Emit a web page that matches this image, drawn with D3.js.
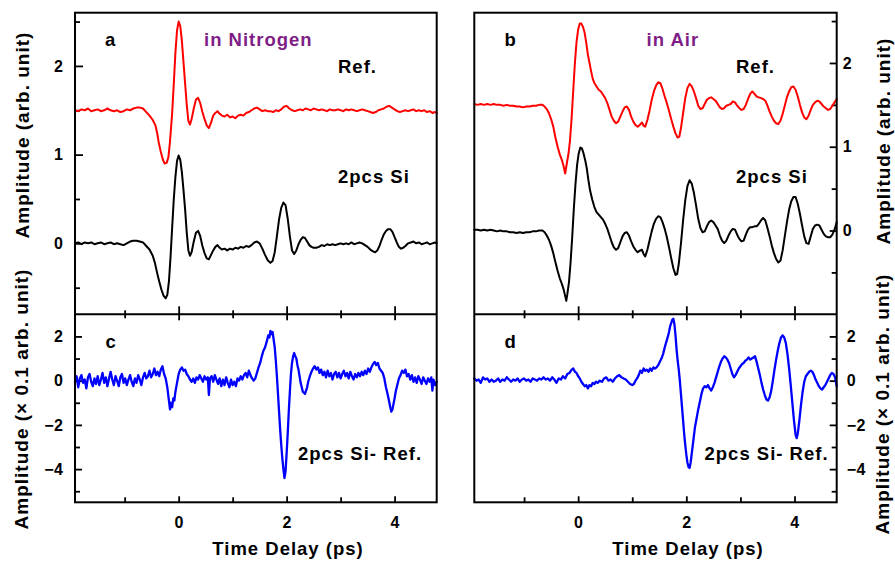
<!DOCTYPE html>
<html><head><meta charset="utf-8">
<script src="https://cdn.jsdelivr.net/npm/d3@7"></script>
<style>
html,body{margin:0;padding:0;background:#fff;}
svg{display:block;font-family:"Liberation Sans",Arial,sans-serif;font-weight:bold;}
</style></head><body>
<svg id="chart" width="895" height="562"></svg>
<script>
// ---------------- data ----------------
// Panel a: reference in nitrogen (red), [time ps, amplitude]
const refN2 = [[-1.92,1.50],[-1.86,1.49],[-1.80,1.51],[-1.74,1.50],[-1.68,1.52],[-1.62,1.49],[-1.56,1.50],[-1.50,1.51],[-1.44,1.49],[-1.38,1.50],[-1.32,1.52],[-1.26,1.50],[-1.20,1.49],[-1.14,1.50],[-1.08,1.48],[-1.02,1.49],[-0.96,1.51],[-0.90,1.50],[-0.84,1.52],[-0.78,1.53],[-0.72,1.53],[-0.66,1.52],[-0.60,1.48],[-0.54,1.44],[-0.48,1.39],[-0.43,1.33],[-0.40,1.25],[-0.37,1.14],[-0.33,1.03],[-0.29,0.94],[-0.26,0.90],[-0.22,0.91],[-0.19,0.97],[-0.16,1.15],[-0.12,1.47],[-0.09,1.80],[-0.06,2.15],[-0.03,2.40],[0.00,2.50],[0.03,2.45],[0.06,2.28],[0.09,2.04],[0.12,1.80],[0.15,1.56],[0.18,1.38],[0.21,1.34],[0.24,1.40],[0.28,1.52],[0.32,1.62],[0.36,1.64],[0.40,1.58],[0.44,1.48],[0.48,1.40],[0.52,1.33],[0.56,1.30],[0.60,1.36],[0.64,1.44],[0.68,1.47],[0.72,1.49],[0.76,1.46],[0.80,1.44],[0.85,1.43],[0.90,1.45],[0.95,1.42],[1.00,1.43],[1.05,1.41],[1.10,1.44],[1.15,1.45],[1.20,1.44],[1.25,1.47],[1.30,1.48],[1.35,1.50],[1.40,1.52],[1.45,1.53],[1.50,1.51],[1.55,1.49],[1.60,1.50],[1.65,1.49],[1.70,1.49],[1.75,1.48],[1.80,1.50],[1.85,1.49],[1.90,1.51],[1.95,1.54],[2.00,1.55],[2.05,1.52],[2.10,1.50],[2.15,1.49],[2.20,1.50],[2.25,1.51],[2.30,1.50],[2.35,1.52],[2.40,1.51],[2.45,1.50],[2.50,1.52],[2.55,1.51],[2.60,1.50],[2.65,1.51],[2.70,1.50],[2.75,1.49],[2.80,1.51],[2.85,1.50],[2.90,1.50],[2.95,1.51],[3.00,1.50],[3.05,1.49],[3.10,1.51],[3.15,1.50],[3.20,1.51],[3.25,1.50],[3.30,1.49],[3.35,1.50],[3.40,1.51],[3.45,1.50],[3.50,1.49],[3.55,1.48],[3.60,1.47],[3.65,1.48],[3.70,1.50],[3.75,1.51],[3.80,1.52],[3.85,1.54],[3.90,1.55],[3.95,1.53],[4.00,1.51],[4.05,1.49],[4.10,1.48],[4.15,1.49],[4.20,1.50],[4.25,1.49],[4.30,1.50],[4.35,1.51],[4.40,1.49],[4.45,1.50],[4.50,1.49],[4.55,1.50],[4.60,1.48],[4.65,1.49],[4.70,1.47],[4.75,1.48],[4.78,1.47]];

// Panel a: 2pcs Si in nitrogen (black)
const siN2 = [[-1.92,0.00],[-1.86,0.01],[-1.80,-0.01],[-1.74,0.01],[-1.68,0.00],[-1.62,0.01],[-1.56,-0.01],[-1.50,0.00],[-1.44,0.01],[-1.38,-0.01],[-1.32,0.00],[-1.26,0.01],[-1.20,-0.01],[-1.14,0.00],[-1.08,-0.01],[-1.02,-0.02],[-0.96,0.00],[-0.90,0.02],[-0.84,0.03],[-0.78,0.03],[-0.72,0.02],[-0.66,0.01],[-0.60,-0.03],[-0.54,-0.07],[-0.48,-0.14],[-0.44,-0.22],[-0.40,-0.33],[-0.36,-0.43],[-0.32,-0.52],[-0.28,-0.59],[-0.24,-0.62],[-0.21,-0.58],[-0.18,-0.43],[-0.15,-0.15],[-0.12,0.18],[-0.09,0.50],[-0.06,0.75],[-0.03,0.93],[0.00,0.99],[0.03,0.94],[0.06,0.80],[0.09,0.60],[0.12,0.38],[0.15,0.12],[0.18,-0.08],[0.21,-0.14],[0.24,-0.10],[0.28,0.02],[0.32,0.12],[0.36,0.14],[0.40,0.08],[0.44,-0.03],[0.48,-0.11],[0.52,-0.17],[0.56,-0.18],[0.60,-0.13],[0.64,-0.08],[0.68,-0.04],[0.72,-0.02],[0.76,-0.05],[0.80,-0.07],[0.85,-0.06],[0.90,-0.08],[0.95,-0.06],[1.00,-0.07],[1.05,-0.05],[1.10,-0.06],[1.15,-0.04],[1.20,-0.05],[1.25,-0.03],[1.30,-0.04],[1.35,-0.02],[1.40,0.01],[1.45,0.02],[1.50,0.00],[1.55,-0.06],[1.60,-0.13],[1.65,-0.19],[1.70,-0.22],[1.74,-0.20],[1.78,-0.10],[1.82,0.08],[1.86,0.27],[1.90,0.40],[1.94,0.46],[1.98,0.43],[2.02,0.28],[2.06,0.08],[2.10,-0.08],[2.14,-0.12],[2.18,-0.08],[2.22,-0.01],[2.26,0.04],[2.30,0.07],[2.34,0.06],[2.38,0.02],[2.42,-0.02],[2.46,-0.04],[2.50,-0.05],[2.55,-0.05],[2.60,-0.04],[2.65,-0.02],[2.70,-0.03],[2.75,-0.01],[2.80,-0.02],[2.85,-0.01],[2.90,-0.02],[2.95,-0.01],[3.00,0.00],[3.05,-0.01],[3.10,0.00],[3.15,-0.01],[3.20,0.01],[3.25,-0.01],[3.30,0.00],[3.35,0.01],[3.40,0.00],[3.45,-0.02],[3.50,-0.04],[3.55,-0.07],[3.60,-0.09],[3.64,-0.10],[3.68,-0.08],[3.72,-0.03],[3.76,0.04],[3.80,0.10],[3.84,0.14],[3.88,0.16],[3.92,0.16],[3.96,0.13],[4.00,0.07],[4.04,0.01],[4.08,-0.04],[4.12,-0.06],[4.16,-0.05],[4.20,-0.03],[4.25,0.00],[4.30,0.01],[4.35,0.02],[4.40,0.00],[4.45,0.01],[4.50,-0.01],[4.55,0.00],[4.60,0.01],[4.65,-0.01],[4.70,0.00],[4.75,0.01],[4.78,0.00]];

// Panel b: reference in air (red)
const refAir = [[-1.92,1.51],[-1.86,1.50],[-1.80,1.51],[-1.74,1.50],[-1.68,1.51],[-1.62,1.50],[-1.56,1.51],[-1.50,1.50],[-1.44,1.50],[-1.38,1.49],[-1.32,1.50],[-1.26,1.49],[-1.20,1.49],[-1.14,1.48],[-1.08,1.48],[-1.02,1.47],[-0.96,1.48],[-0.90,1.48],[-0.84,1.49],[-0.78,1.49],[-0.72,1.50],[-0.66,1.50],[-0.62,1.48],[-0.58,1.45],[-0.54,1.40],[-0.50,1.33],[-0.46,1.24],[-0.42,1.11],[-0.38,1.00],[-0.34,0.91],[-0.30,0.84],[-0.27,0.77],[-0.24,0.68],[-0.21,0.80],[-0.18,0.91],[-0.15,1.08],[-0.12,1.35],[-0.09,1.68],[-0.06,2.00],[-0.03,2.25],[0.00,2.40],[0.03,2.47],[0.06,2.47],[0.09,2.43],[0.12,2.36],[0.15,2.24],[0.18,2.10],[0.21,2.00],[0.24,1.90],[0.27,1.81],[0.30,1.76],[0.34,1.72],[0.38,1.68],[0.42,1.66],[0.46,1.62],[0.50,1.58],[0.54,1.52],[0.58,1.44],[0.62,1.36],[0.66,1.31],[0.70,1.28],[0.74,1.30],[0.78,1.36],[0.82,1.42],[0.86,1.47],[0.90,1.48],[0.94,1.44],[0.98,1.36],[1.02,1.30],[1.06,1.26],[1.10,1.24],[1.14,1.26],[1.18,1.29],[1.21,1.25],[1.24,1.24],[1.28,1.32],[1.32,1.43],[1.36,1.56],[1.40,1.66],[1.44,1.73],[1.48,1.77],[1.52,1.76],[1.56,1.69],[1.60,1.60],[1.64,1.52],[1.68,1.43],[1.72,1.33],[1.76,1.24],[1.80,1.16],[1.84,1.11],[1.87,1.12],[1.90,1.22],[1.94,1.40],[1.98,1.58],[2.02,1.70],[2.06,1.75],[2.10,1.72],[2.14,1.66],[2.18,1.58],[2.22,1.49],[2.26,1.45],[2.30,1.46],[2.34,1.51],[2.38,1.56],[2.42,1.58],[2.46,1.59],[2.50,1.57],[2.54,1.55],[2.58,1.51],[2.62,1.47],[2.66,1.45],[2.70,1.46],[2.74,1.49],[2.78,1.50],[2.82,1.51],[2.86,1.54],[2.90,1.53],[2.94,1.49],[2.98,1.46],[3.02,1.44],[3.06,1.45],[3.10,1.50],[3.14,1.57],[3.18,1.63],[3.22,1.66],[3.26,1.63],[3.30,1.60],[3.34,1.59],[3.38,1.58],[3.42,1.57],[3.46,1.55],[3.50,1.49],[3.54,1.42],[3.58,1.36],[3.62,1.31],[3.66,1.28],[3.70,1.27],[3.74,1.31],[3.78,1.39],[3.82,1.49],[3.86,1.59],[3.90,1.66],[3.94,1.71],[3.98,1.72],[4.02,1.68],[4.06,1.60],[4.10,1.50],[4.14,1.41],[4.18,1.35],[4.22,1.33],[4.26,1.37],[4.30,1.44],[4.34,1.50],[4.38,1.53],[4.42,1.55],[4.46,1.54],[4.50,1.51],[4.54,1.48],[4.58,1.46],[4.62,1.44],[4.66,1.45],[4.70,1.49],[4.74,1.53],[4.78,1.57]];

// Panel b: 2pcs Si in air (black)
const siAir = [[-1.92,0.01],[-1.86,0.01],[-1.80,0.00],[-1.74,0.01],[-1.68,0.00],[-1.62,0.01],[-1.56,0.00],[-1.50,-0.01],[-1.44,0.00],[-1.38,-0.01],[-1.32,-0.01],[-1.26,-0.02],[-1.20,-0.02],[-1.14,-0.03],[-1.08,-0.02],[-1.02,-0.03],[-0.96,-0.02],[-0.90,-0.02],[-0.84,-0.01],[-0.78,-0.01],[-0.72,0.00],[-0.66,0.00],[-0.62,-0.02],[-0.58,-0.06],[-0.54,-0.11],[-0.50,-0.18],[-0.46,-0.27],[-0.42,-0.38],[-0.38,-0.48],[-0.34,-0.57],[-0.30,-0.64],[-0.27,-0.70],[-0.24,-0.78],[-0.22,-0.84],[-0.20,-0.76],[-0.17,-0.62],[-0.14,-0.38],[-0.11,-0.08],[-0.08,0.26],[-0.05,0.55],[-0.02,0.78],[0.01,0.92],[0.04,0.99],[0.07,0.98],[0.10,0.92],[0.13,0.84],[0.16,0.74],[0.19,0.60],[0.22,0.48],[0.26,0.37],[0.30,0.28],[0.34,0.22],[0.38,0.19],[0.42,0.16],[0.46,0.13],[0.50,0.08],[0.54,0.02],[0.58,-0.06],[0.62,-0.14],[0.66,-0.20],[0.70,-0.23],[0.74,-0.21],[0.78,-0.14],[0.82,-0.07],[0.86,-0.03],[0.90,-0.02],[0.94,-0.06],[0.98,-0.13],[1.02,-0.19],[1.06,-0.23],[1.10,-0.26],[1.14,-0.24],[1.18,-0.23],[1.21,-0.28],[1.24,-0.31],[1.28,-0.23],[1.32,-0.12],[1.36,-0.01],[1.40,0.08],[1.44,0.14],[1.48,0.17],[1.52,0.16],[1.56,0.10],[1.60,0.02],[1.64,-0.08],[1.68,-0.20],[1.72,-0.33],[1.76,-0.45],[1.80,-0.53],[1.83,-0.52],[1.86,-0.40],[1.90,-0.16],[1.94,0.12],[1.98,0.36],[2.02,0.53],[2.06,0.60],[2.10,0.56],[2.14,0.45],[2.18,0.30],[2.22,0.14],[2.26,0.03],[2.30,-0.02],[2.34,-0.01],[2.38,0.05],[2.42,0.10],[2.46,0.12],[2.50,0.10],[2.54,0.06],[2.58,0.02],[2.62,-0.06],[2.66,-0.12],[2.70,-0.15],[2.74,-0.12],[2.78,-0.06],[2.82,-0.01],[2.86,0.02],[2.90,0.01],[2.94,-0.05],[2.98,-0.10],[3.02,-0.13],[3.06,-0.12],[3.10,-0.05],[3.14,0.01],[3.18,0.04],[3.22,0.04],[3.26,0.05],[3.30,0.05],[3.34,0.08],[3.38,0.12],[3.42,0.15],[3.46,0.12],[3.50,0.03],[3.54,-0.07],[3.58,-0.18],[3.62,-0.27],[3.66,-0.34],[3.70,-0.38],[3.74,-0.36],[3.78,-0.24],[3.82,-0.07],[3.86,0.10],[3.90,0.25],[3.94,0.35],[3.98,0.40],[4.02,0.40],[4.06,0.32],[4.10,0.20],[4.14,0.06],[4.18,-0.07],[4.22,-0.15],[4.26,-0.16],[4.30,-0.07],[4.34,0.02],[4.38,0.06],[4.42,0.07],[4.46,0.06],[4.50,0.01],[4.54,-0.04],[4.58,-0.07],[4.62,-0.08],[4.66,-0.08],[4.70,-0.05],[4.74,0.01],[4.78,0.10]];

// Panel c: difference in nitrogen (blue, x0.1)
const diffN2 = [[-1.92,-0.05],[-1.89,0.20],[-1.86,-0.30],[-1.83,0.10],[-1.80,0.25],[-1.77,-0.10],[-1.74,0.05],[-1.71,-0.35],[-1.68,0.15],[-1.65,0.30],[-1.62,-0.05],[-1.59,-0.25],[-1.56,0.10],[-1.53,-0.15],[-1.50,0.20],[-1.47,-0.20],[-1.44,0.05],[-1.41,0.35],[-1.38,-0.10],[-1.35,0.15],[-1.32,-0.25],[-1.29,0.10],[-1.26,0.40],[-1.23,0.05],[-1.20,-0.20],[-1.17,0.20],[-1.14,0.00],[-1.11,-0.25],[-1.08,0.15],[-1.05,0.30],[-1.02,-0.10],[-0.99,0.10],[-0.96,-0.20],[-0.93,0.05],[-0.90,0.25],[-0.87,-0.05],[-0.84,-0.25],[-0.81,0.10],[-0.78,-0.10],[-0.75,0.25],[-0.72,0.05],[-0.69,-0.20],[-0.66,0.15],[-0.63,0.35],[-0.60,0.10],[-0.57,0.20],[-0.54,0.45],[-0.51,0.15],[-0.48,0.30],[-0.45,0.55],[-0.42,0.25],[-0.39,0.40],[-0.36,0.20],[-0.33,0.50],[-0.30,0.65],[-0.27,0.30],[-0.24,0.10],[-0.21,-0.30],[-0.18,-0.90],[-0.16,-1.30],[-0.14,-1.00],[-0.12,-1.20],[-0.10,-0.80],[-0.08,-0.90],[-0.06,-0.50],[-0.03,-0.10],[0.00,0.30],[0.03,0.50],[0.06,0.60],[0.09,0.45],[0.12,0.50],[0.15,0.30],[0.18,0.20],[0.21,0.05],[0.24,-0.05],[0.27,0.10],[0.30,-0.10],[0.33,0.15],[0.36,0.05],[0.39,0.25],[0.42,0.10],[0.45,-0.05],[0.48,0.20],[0.51,0.05],[0.54,0.15],[0.56,-0.65],[0.58,0.10],[0.61,0.20],[0.64,-0.05],[0.67,0.25],[0.70,0.05],[0.73,-0.15],[0.76,0.10],[0.79,-0.25],[0.82,0.05],[0.85,-0.20],[0.88,0.15],[0.91,-0.10],[0.94,-0.30],[0.97,0.05],[1.00,-0.20],[1.03,-0.05],[1.06,-0.25],[1.09,0.10],[1.12,0.00],[1.15,0.20],[1.18,0.05],[1.21,0.25],[1.24,0.35],[1.27,0.15],[1.30,0.45],[1.33,0.25],[1.36,0.10],[1.39,0.00],[1.42,0.10],[1.45,0.35],[1.48,0.60],[1.51,0.80],[1.54,1.10],[1.57,1.35],[1.60,1.50],[1.63,1.75],[1.66,2.05],[1.68,1.95],[1.70,2.25],[1.72,2.10],[1.74,2.20],[1.76,1.85],[1.78,1.50],[1.80,0.90],[1.82,0.20],[1.84,-0.60],[1.86,-1.40],[1.88,-2.20],[1.90,-2.90],[1.92,-3.50],[1.94,-4.00],[1.96,-4.40],[1.98,-4.10],[2.00,-3.30],[2.02,-2.40],[2.04,-1.40],[2.06,-0.50],[2.08,0.30],[2.10,0.80],[2.12,1.10],[2.14,1.25],[2.16,1.10],[2.18,1.00],[2.20,0.70],[2.22,0.50],[2.24,0.20],[2.26,-0.10],[2.28,-0.30],[2.30,-0.50],[2.32,-0.55],[2.34,-0.60],[2.36,-0.45],[2.38,-0.30],[2.40,-0.05],[2.43,0.20],[2.46,0.40],[2.49,0.55],[2.52,0.65],[2.55,0.50],[2.58,0.60],[2.61,0.35],[2.64,0.50],[2.67,0.25],[2.70,0.40],[2.73,0.15],[2.76,0.45],[2.79,0.20],[2.82,0.35],[2.85,0.05],[2.88,0.30],[2.91,0.40],[2.94,0.15],[2.97,0.35],[3.00,0.10],[3.03,0.30],[3.06,0.45],[3.09,0.20],[3.12,0.35],[3.15,0.10],[3.18,0.40],[3.21,0.20],[3.24,0.05],[3.27,0.30],[3.30,0.15],[3.33,0.35],[3.36,0.20],[3.39,0.40],[3.42,0.25],[3.45,0.45],[3.48,0.30],[3.51,0.55],[3.54,0.40],[3.57,0.60],[3.60,0.75],[3.63,0.85],[3.66,0.70],[3.69,0.80],[3.72,0.55],[3.75,0.45],[3.78,0.35],[3.81,0.10],[3.84,-0.30],[3.87,-0.60],[3.90,-0.95],[3.92,-1.20],[3.94,-1.40],[3.96,-1.30],[3.98,-1.05],[4.00,-0.80],[4.02,-0.50],[4.05,-0.20],[4.08,0.10],[4.11,0.25],[4.14,0.45],[4.17,0.35],[4.20,0.50],[4.23,0.20],[4.26,0.30],[4.29,0.05],[4.32,0.25],[4.35,-0.05],[4.38,0.15],[4.41,-0.10],[4.44,0.20],[4.47,0.05],[4.50,-0.15],[4.53,0.15],[4.56,0.00],[4.59,-0.15],[4.62,0.10],[4.65,-0.05],[4.68,0.15],[4.70,-0.45],[4.72,0.05],[4.75,-0.20],[4.78,-0.05]];

// Panel d: difference in air (blue, x0.1)
const diffAir = [[-1.92,0.10],[-1.88,0.00],[-1.84,0.05],[-1.80,-0.10],[-1.76,0.15],[-1.72,0.05],[-1.68,0.10],[-1.64,-0.05],[-1.60,0.05],[-1.56,-0.05],[-1.52,0.00],[-1.48,0.10],[-1.44,-0.05],[-1.40,0.05],[-1.36,0.00],[-1.32,0.15],[-1.28,0.05],[-1.24,-0.05],[-1.20,0.05],[-1.16,0.00],[-1.12,0.10],[-1.08,-0.05],[-1.04,0.05],[-1.00,0.10],[-0.96,0.00],[-0.92,0.05],[-0.88,-0.05],[-0.84,0.10],[-0.80,0.05],[-0.76,0.00],[-0.72,0.10],[-0.68,0.05],[-0.64,0.15],[-0.60,0.05],[-0.56,0.10],[-0.52,0.00],[-0.48,0.15],[-0.44,0.05],[-0.40,-0.10],[-0.36,0.10],[-0.32,0.05],[-0.28,0.20],[-0.24,0.10],[-0.20,0.30],[-0.16,0.35],[-0.12,0.50],[-0.09,0.55],[-0.06,0.40],[-0.03,0.35],[0.00,0.20],[0.03,0.10],[0.06,-0.05],[0.09,-0.15],[0.12,-0.25],[0.15,-0.20],[0.18,-0.35],[0.21,-0.20],[0.24,-0.25],[0.27,-0.10],[0.30,-0.15],[0.33,-0.05],[0.36,-0.10],[0.40,0.00],[0.44,-0.05],[0.48,0.10],[0.52,0.15],[0.56,0.00],[0.60,0.05],[0.64,-0.05],[0.68,0.10],[0.72,0.20],[0.76,0.25],[0.80,0.15],[0.84,0.10],[0.88,0.05],[0.92,-0.05],[0.96,-0.15],[1.00,-0.20],[1.03,-0.15],[1.06,0.00],[1.09,0.10],[1.12,0.25],[1.15,0.45],[1.18,0.35],[1.21,0.55],[1.24,0.45],[1.27,0.50],[1.30,0.40],[1.33,0.55],[1.36,0.45],[1.39,0.60],[1.42,0.55],[1.45,0.60],[1.48,0.70],[1.51,0.85],[1.54,1.00],[1.57,1.20],[1.60,1.50],[1.63,1.75],[1.66,2.00],[1.68,2.20],[1.70,2.45],[1.72,2.60],[1.74,2.75],[1.76,2.80],[1.78,2.55],[1.80,2.05],[1.82,1.40],[1.84,0.90],[1.86,0.50],[1.88,0.00],[1.90,-0.60],[1.92,-1.20],[1.94,-1.80],[1.96,-2.40],[1.98,-2.90],[2.00,-3.35],[2.02,-3.70],[2.04,-3.90],[2.06,-3.95],[2.08,-3.70],[2.10,-3.30],[2.12,-2.90],[2.14,-2.50],[2.16,-2.10],[2.19,-1.70],[2.22,-1.30],[2.25,-0.95],[2.28,-0.60],[2.31,-0.35],[2.34,-0.25],[2.37,-0.30],[2.40,-0.20],[2.43,-0.35],[2.46,-0.45],[2.49,-0.30],[2.52,-0.10],[2.55,0.15],[2.58,0.40],[2.61,0.65],[2.64,0.85],[2.67,1.00],[2.70,1.10],[2.73,1.05],[2.76,0.95],[2.79,0.80],[2.82,0.55],[2.85,0.30],[2.88,0.15],[2.91,0.25],[2.94,0.40],[2.97,0.55],[3.00,0.65],[3.03,0.75],[3.06,0.80],[3.09,0.90],[3.12,0.95],[3.15,1.05],[3.18,0.95],[3.21,1.00],[3.24,1.05],[3.27,1.10],[3.30,0.85],[3.33,0.55],[3.36,0.25],[3.39,-0.10],[3.42,-0.40],[3.45,-0.65],[3.48,-0.85],[3.51,-0.90],[3.54,-0.75],[3.57,-0.45],[3.60,0.00],[3.63,0.50],[3.66,0.95],[3.69,1.35],[3.72,1.70],[3.75,1.95],[3.78,2.05],[3.81,1.95],[3.84,1.70],[3.87,1.20],[3.90,0.55],[3.93,-0.20],[3.96,-1.00],[3.99,-1.80],[4.02,-2.45],[4.04,-2.60],[4.06,-2.40],[4.09,-1.80],[4.12,-1.10],[4.15,-0.50],[4.18,-0.05],[4.21,0.20],[4.24,0.30],[4.27,0.40],[4.30,0.45],[4.33,0.40],[4.36,0.25],[4.39,0.05],[4.42,-0.10],[4.45,-0.25],[4.48,-0.35],[4.51,-0.40],[4.54,-0.30],[4.57,-0.20],[4.60,-0.05],[4.63,0.10],[4.66,0.25],[4.69,0.35],[4.72,0.30],[4.75,0.15],[4.78,-0.25]];

// tick values
const timeMajor = [0, 2, 4];
const timeMinor = [-1, 1, 3];
const ampMajor = [0, 1, 2];
const ampMinor = [-0.5, 0.5, 1.5, 2.5];
const diffMajor = [-4, -2, 0, 2];
const diffMinor = [-5, -3, -1, 1];

// ---------------- drawing ----------------
const svg = d3.select("#chart");
const FONT = '"Liberation Sans", Arial, sans-serif';
const PURPLE = "#7e1e86";

const xL = d3.scaleLinear().domain([-1.92, 4.78]).range([75, 436.7]);
const xR = d3.scaleLinear().domain([-1.92, 4.78]).range([474.3, 836.7]);
const yA = d3.scaleLinear().domain([-0.8, 2.6]).range([314.3, 12.7]);
const yB = d3.scaleLinear().domain([-1.0, 2.6]).range([314.3, 12.7]);
const yC = d3.scaleLinear().domain([-5.5, 3]).range([502.3, 314.3]);
const yD = d3.scaleLinear().domain([-5.5, 3]).range([502.3, 314.3]);

function styleAxis(g, size) {
  g.select(".domain").remove();
  g.attr("font-family", FONT).attr("font-size", size).attr("font-weight", "bold");
  g.selectAll(".tick line").attr("stroke", "#000").attr("stroke-width", 1.8);
  g.selectAll(".tick text").attr("fill", "#000").style("letter-spacing", "0.5px");
}
function addAxis(axis, tx, ty, size) {
  svg.append("g").attr("transform", `translate(${tx},${ty})`).call(axis).call(g => styleAxis(g, size || 16));
}

// Left panels (a, c)
addAxis(d3.axisLeft(yA).tickValues(ampMajor).tickSize(-8).tickPadding(11.5).tickFormat(d3.format("d")), 75, 0, 16);
addAxis(d3.axisLeft(yA).tickValues(ampMinor).tickSize(-5).tickFormat(""), 75, 0);
addAxis(d3.axisBottom(xL).tickValues(timeMajor).tickSize(-8).tickFormat(""), 0, 314.3);
addAxis(d3.axisBottom(xL).tickValues(timeMinor).tickSize(-4).tickFormat(""), 0, 314.3);
addAxis(d3.axisTop(xL).tickValues(timeMajor).tickSize(-6).tickFormat(""), 0, 314.3);
addAxis(d3.axisTop(xL).tickValues(timeMinor).tickSize(-4).tickFormat(""), 0, 314.3);
addAxis(d3.axisLeft(yC).tickValues(diffMajor).tickSize(-7).tickPadding(11.5).tickFormat(d3.format("d")), 75, 0, 16);
addAxis(d3.axisLeft(yC).tickValues(diffMinor).tickSize(-5).tickFormat(""), 75, 0);
addAxis(d3.axisBottom(xL).tickValues(timeMajor).tickSize(-6).tickPadding(14).tickFormat(d3.format("d")), 0, 502.3, 16);
addAxis(d3.axisBottom(xL).tickValues(timeMinor).tickSize(-5).tickFormat(""), 0, 502.3);

// Right panels (b, d)
addAxis(d3.axisRight(yB).tickValues(ampMajor).tickSize(-7).tickPadding(6).tickFormat(d3.format("d")), 836.7, 0, 16);
addAxis(d3.axisRight(yB).tickValues(ampMinor).tickSize(-5).tickFormat(""), 836.7, 0);
addAxis(d3.axisBottom(xR).tickValues(timeMajor).tickSize(-8).tickFormat(""), 0, 314.3);
addAxis(d3.axisBottom(xR).tickValues(timeMinor).tickSize(-4).tickFormat(""), 0, 314.3);
addAxis(d3.axisTop(xR).tickValues(timeMajor).tickSize(-6).tickFormat(""), 0, 314.3);
addAxis(d3.axisTop(xR).tickValues(timeMinor).tickSize(-4).tickFormat(""), 0, 314.3);
addAxis(d3.axisRight(yD).tickValues(diffMajor).tickSize(-7).tickPadding(10).tickFormat(d3.format("d")), 836.7, 0, 16);
addAxis(d3.axisRight(yD).tickValues(diffMinor).tickSize(-5).tickFormat(""), 836.7, 0);
addAxis(d3.axisBottom(xR).tickValues(timeMajor).tickSize(-6).tickPadding(14).tickFormat(d3.format("d")), 0, 502.3, 16);
addAxis(d3.axisBottom(xR).tickValues(timeMinor).tickSize(-5).tickFormat(""), 0, 502.3);

// curves
function drawLine(data, x, y, color, w) {
  const line = d3.line().x(d => x(d[0])).y(d => y(d[1]));
  svg.append("path").datum(data).attr("d", line)
    .attr("fill", "none").attr("stroke", color).attr("stroke-width", w)
    .attr("stroke-linejoin", "round").attr("stroke-linecap", "round");
}
drawLine(refN2, xL, yA, "#ff0000", 2);
drawLine(siN2, xL, yA, "#000000", 2);
drawLine(refAir, xR, yB, "#ff0000", 2);
drawLine(siAir, xR, yB, "#000000", 2);
drawLine(diffN2, xL, yC, "#0000ff", 2.3);
drawLine(diffAir, xR, yD, "#0000ff", 2.3);

// frames
function frame(x0, x1, y0, y1) {
  svg.append("rect").attr("x", x0).attr("y", y0).attr("width", x1 - x0).attr("height", y1 - y0)
    .attr("fill", "none").attr("stroke", "#000").attr("stroke-width", 2);
}
frame(xL.range()[0], xL.range()[1], 12.7, 502.3);
frame(xR.range()[0], xR.range()[1], 12.7, 502.3);
svg.append("line").attr("x1", xL.range()[0]).attr("x2", xL.range()[1]).attr("y1", 314.3).attr("y2", 314.3).attr("stroke", "#000").attr("stroke-width", 2);
svg.append("line").attr("x1", xR.range()[0]).attr("x2", xR.range()[1]).attr("y1", 314.3).attr("y2", 314.3).attr("stroke", "#000").attr("stroke-width", 2);

// labels
function label(txt, x, y, color, anchor) {
  svg.append("text").attr("x", x).attr("y", y).text(txt)
    .attr("font-family", FONT).attr("font-weight", "bold").attr("font-size", 18.5)
    .attr("fill", color || "#000").attr("text-anchor", anchor || "start")
    .style("letter-spacing", "1px");
}
label("a", 105, 45.5);
label("in Nitrogen", 204, 46, PURPLE);
label("Ref.", 338, 73);
label("2pcs Si", 338, 182.5);
label("b", 504.5, 45.5);
label("in Air", 646.5, 46, PURPLE);
label("Ref.", 736, 73);
label("2pcs Si", 736, 182.5);
label("c", 105.5, 347.5);
label("2pcs Si- Ref.", 298, 460);
label("d", 504.5, 348);
label("2pcs Si- Ref.", 704.5, 460);
label("Time Delay (ps)", 288, 555, "#000", "middle");
label("Time Delay (ps)", 688, 555, "#000", "middle");

function vlabel(txt, x, y) {
  svg.append("text").attr("transform", `translate(${x},${y}) rotate(-90)`).text(txt)
    .attr("font-family", FONT).attr("font-weight", "bold").attr("font-size", 19)
    .attr("text-anchor", "middle").attr("fill", "#000").style("letter-spacing", "1px");
}
vlabel("Amplitude (arb. unit)", 28.5, 135);
vlabel("Amplitude (\u00d7 0.1 arb. unit)", 27.5, 399);
vlabel("Amplitude (arb. unit)", 890, 141);
vlabel("Amplitude (\u00d7 0.1 arb. unit)", 889, 404);
</script>
</body></html>
